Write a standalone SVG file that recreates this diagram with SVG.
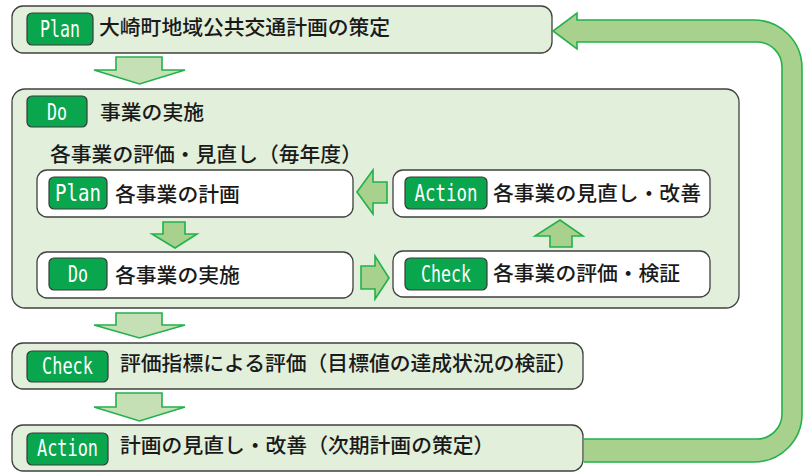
<svg xmlns="http://www.w3.org/2000/svg" width="808" height="472" viewBox="0 0 808 472">
<style>
.box{fill:#e2efda;stroke:#404040;stroke-width:1.3}
.ibox{fill:#ffffff;stroke:#404040;stroke-width:1.3}
.badge{fill:#0aa64e;stroke:#3a3a3a;stroke-width:1.2}
.bt{font-family:"DejaVu Sans Mono","Liberation Mono",monospace;font-size:23px;fill:#ffffff;text-anchor:middle}
.jt{font-family:"Noto Sans CJK JP","Noto Sans",sans-serif;font-size:20.8px;font-weight:500;fill:#1a1a1a}
.arr{fill:#a9d18e;stroke:#22b14c;stroke-width:1.6;stroke-linejoin:miter}
.arrl{fill:#c5e0b4;stroke:#22b14c;stroke-width:1.6}
</style>
<rect width="808" height="472" fill="#ffffff"/>

<g id="plan-main">
  <rect class="box" x="12" y="6" width="540" height="47" rx="11"/>
  <rect class="badge" x="27" y="13" width="66" height="32" rx="5"/>
  <text class="bt" x="60" y="36.5" textLength="40" lengthAdjust="spacingAndGlyphs">Plan</text>
  <text class="jt" x="99" y="35" font-size="21.3">大崎町地域公共交通計画の策定</text>
</g>

<g id="do-main">
  <rect class="box" x="12" y="89" width="727" height="219" rx="13"/>
  <rect class="badge" x="27" y="96" width="60" height="31" rx="5"/>
  <text class="bt" x="57" y="120" textLength="20" lengthAdjust="spacingAndGlyphs">Do</text>
  <text class="jt" x="100" y="120">事業の実施</text>
  <text class="jt" x="50" y="162">各事業の評価・見直し（毎年度）</text>
</g>

<g id="plan-sub">
  <rect class="ibox" x="37" y="170" width="316" height="47" rx="10"/>
  <rect class="badge" x="49" y="177" width="58" height="32" rx="5"/>
  <text class="bt" x="78" y="201" textLength="46" lengthAdjust="spacingAndGlyphs">Plan</text>
  <text class="jt" x="115" y="202">各事業の計画</text>
</g>

<g id="do-sub">
  <rect class="ibox" x="37" y="252" width="316" height="46" rx="10"/>
  <rect class="badge" x="49" y="258" width="58" height="32" rx="5"/>
  <text class="bt" x="78" y="282" textLength="20" lengthAdjust="spacingAndGlyphs">Do</text>
  <text class="jt" x="115" y="283">各事業の実施</text>
</g>

<g id="action-sub">
  <rect class="ibox" x="393" y="170" width="317" height="47" rx="10"/>
  <rect class="badge" x="405" y="177" width="82" height="32" rx="5"/>
  <text class="bt" x="446" y="201" textLength="63" lengthAdjust="spacingAndGlyphs">Action</text>
  <text class="jt" x="493" y="201">各事業の見直し・改善</text>
</g>

<g id="check-sub">
  <rect class="ibox" x="393" y="251" width="317" height="46" rx="10"/>
  <rect class="badge" x="405" y="258" width="82" height="32" rx="5"/>
  <text class="bt" x="446" y="281.5" textLength="50" lengthAdjust="spacingAndGlyphs">Check</text>
  <text class="jt" x="493" y="281">各事業の評価・検証</text>
</g>

<g id="check-main">
  <rect class="box" x="12" y="343" width="571" height="46" rx="11"/>
  <rect class="badge" x="27" y="351" width="81" height="31" rx="5"/>
  <text class="bt" x="67.5" y="373.5" textLength="51" lengthAdjust="spacingAndGlyphs">Check</text>
  <text class="jt" x="120" y="371">評価指標による評価（目標値の達成状況の検証）</text>
</g>

<g id="action-main">
  <rect class="box" x="12" y="425" width="571" height="46" rx="11"/>
  <rect class="badge" x="27" y="433" width="81" height="32" rx="5"/>
  <text class="bt" x="67.5" y="456" textLength="61" lengthAdjust="spacingAndGlyphs">Action</text>
  <text class="jt" x="120" y="453">計画の見直し・改善（次期計画の策定）</text>
</g>

<g id="connectors">
  <polygon class="arrl" points="116,57 162,57 162,70 185,70 139.5,84 94,70 116,70"/>
  <polygon class="arrl" points="116,313 162,313 162,325 185,325 139.5,338 94,325 116,325"/>
  <polygon class="arrl" points="116,393 162,393 162,407 185,407 139.5,421 94,407 116,407"/>
  <polygon class="arr" points="163,222 185,222 185,234 197,234 175,248 152,234 163,234"/>
  <polygon class="arr" points="361,266 375,266 375,256 389,278 375,299 375,289 361,289"/>
  <polygon class="arr" points="387,182 373,182 373,170 357,192 373,214 373,203 387,203"/>
  <polygon class="arr" points="550,247 572,247 572,236 583,236 560,220 535,236 550,236"/>
  <path class="arr" d="M584,462 L754,462 A48,48 0 0 0 802,414 L802,68 A48,48 0 0 0 754,20 L577,20 L577,13 L553,31 L577,49 L577,42 L757,42 A25,25 0 0 1 782,67 L782,414 A25,25 0 0 1 757,439 L584,439"/>
</g>
</svg>
